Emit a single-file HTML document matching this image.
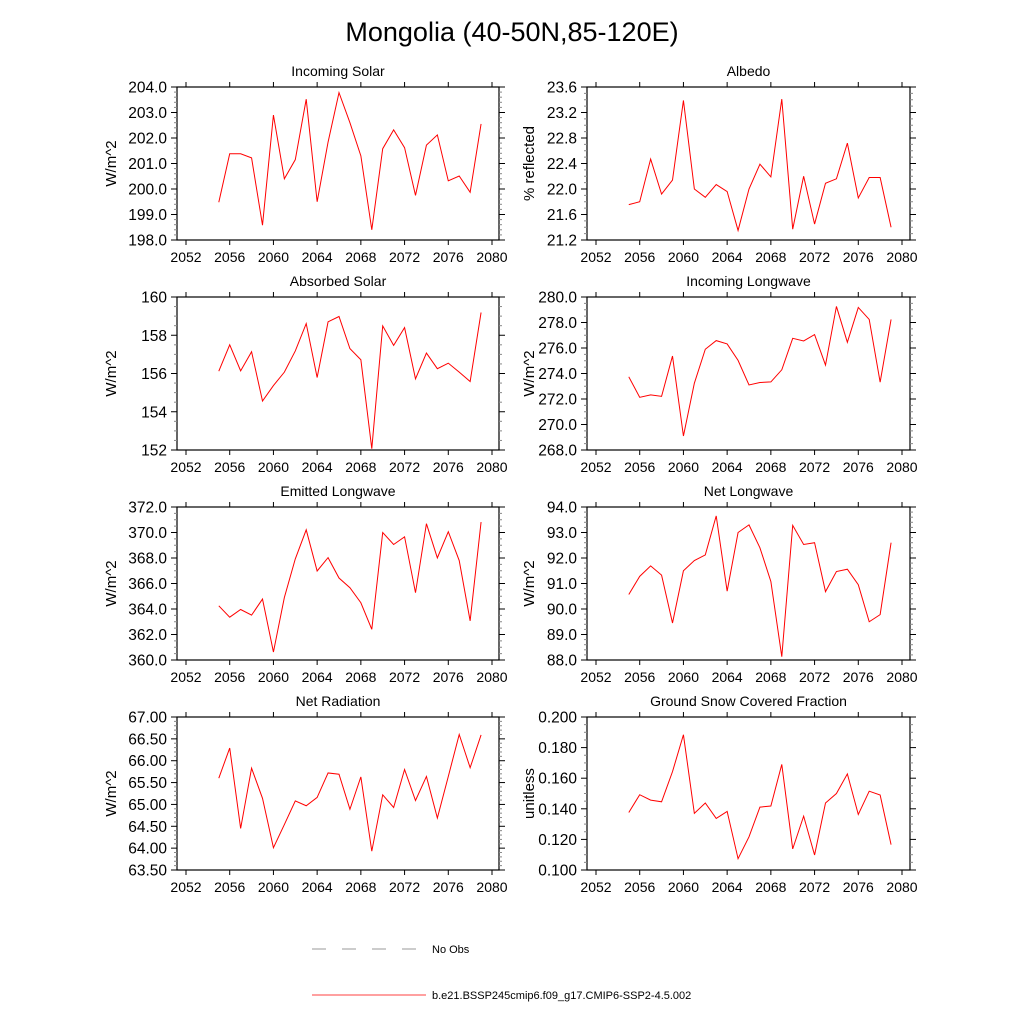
<!DOCTYPE html>
<html><head><meta charset="utf-8"><style>
html,body{margin:0;padding:0;background:#fff;}
svg{display:block;font-family:"Liberation Sans",sans-serif;}
</style></head><body>
<svg id="root" width="1024" height="1024" viewBox="0 0 1024 1024">
<text x="512" y="41" font-size="27" text-anchor="middle">Mongolia (40-50N,85-120E)</text>
<g>
<line x1="312" y1="949" x2="420" y2="949" stroke="#333" stroke-width="0.6" stroke-dasharray="14,16"/>
<text x="432" y="953" font-size="11">No Obs</text>
<line x1="312" y1="995" x2="426" y2="995" stroke="#f00" stroke-width="0.8"/>
<text x="432" y="999" font-size="11">b.e21.BSSP245cmip6.f09_g17.CMIP6-SSP2-4.5.002</text>
</g>
</svg>
<script>
const years=[2055,2056,2057,2058,2059,2060,2061,2062,2063,2064,2065,2066,2067,2068,2069,2070,2071,2072,2073,2074,2075,2076,2077,2078,2079];
const xTicks=[2052,2056,2060,2064,2068,2072,2076,2080];
const incomingSolar=[199.48,201.38,201.38,201.22,198.58,202.9,200.4,201.15,203.52,199.5,201.84,203.78,202.6,201.3,198.4,201.58,202.32,201.62,199.75,201.72,202.12,200.32,200.51,199.87,202.55];
const albedo=[21.755,21.8,22.47,21.92,22.14,23.39,22.0,21.87,22.07,21.96,21.35,22.0,22.39,22.19,23.41,21.37,22.2,21.45,22.09,22.16,22.72,21.86,22.18,22.18,21.4];
const absorbedSolar=[156.12,157.5,156.14,157.14,154.56,155.37,156.07,157.18,158.61,155.79,158.7,158.98,157.3,156.72,152.07,158.49,157.47,158.4,155.72,157.07,156.25,156.54,156.07,155.58,159.19];
const incomingLW=[273.74,272.13,272.32,272.21,275.37,269.1,273.24,275.9,276.58,276.32,275.03,273.1,273.29,273.34,274.29,276.76,276.55,277.05,274.66,279.26,276.45,279.18,278.24,273.32,278.24];
const emittedLW=[364.25,363.36,363.96,363.52,364.78,360.63,364.9,367.93,370.21,366.98,368.03,366.43,365.67,364.49,362.41,370.0,369.06,369.66,365.28,370.69,368.01,370.06,367.8,363.07,370.82];
const netLW=[90.57,91.28,91.69,91.33,89.45,91.5,91.9,92.12,93.65,90.7,93.0,93.3,92.4,91.08,88.13,93.28,92.53,92.6,90.68,91.47,91.56,90.95,89.5,89.78,92.6];
const netRad=[65.6,66.29,64.45,65.83,65.14,64.01,64.54,65.08,64.97,65.16,65.72,65.69,64.89,65.63,63.93,65.22,64.93,65.8,65.09,65.64,64.69,65.64,66.6,65.84,66.59];
const snowFrac=[0.1376,0.1492,0.1457,0.1446,0.1643,0.1884,0.137,0.1438,0.1337,0.1383,0.1074,0.1217,0.1411,0.1418,0.169,0.1138,0.1352,0.1098,0.1438,0.15,0.1628,0.1363,0.1515,0.149,0.1166];
const ticksIS=[198,199,200,201,202,203,204];
const ticksAL=[21.2,21.6,22.0,22.4,22.8,23.2,23.6];
const ticksAS=[152,154,156,158,160];
const ticksIL=[268,270,272,274,276,278,280];
const ticksEL=[360,362,364,366,368,370,372];
const ticksNL=[88,89,90,91,92,93,94];
const ticksNR=[63.5,64,64.5,65,65.5,66,66.5,67];
const ticksSN=[0.1,0.12,0.14,0.16,0.18,0.2];

const NS='http://www.w3.org/2000/svg';
const root=document.getElementById('root');
function mk(tag,attrs,parent){const e=document.createElementNS(NS,tag);for(const k in attrs)e.setAttribute(k,attrs[k]);(parent||root).appendChild(e);return e;}

const panels=[
 {title:'Incoming Solar',ylab:'W/m^2',data:incomingSolar,ticks:ticksIS,dec:1,minor:5,col:0,row:0,slug:'incoming-solar'},
 {title:'Albedo',ylab:'% reflected',data:albedo,ticks:ticksAL,dec:1,minor:4,col:1,row:0,slug:'albedo'},
 {title:'Absorbed Solar',ylab:'W/m^2',data:absorbedSolar,ticks:ticksAS,dec:0,minor:4,col:0,row:1,slug:'absorbed-solar'},
 {title:'Incoming Longwave',ylab:'W/m^2',data:incomingLW,ticks:ticksIL,dec:1,minor:4,col:1,row:1,slug:'incoming-longwave'},
 {title:'Emitted Longwave',ylab:'W/m^2',data:emittedLW,ticks:ticksEL,dec:1,minor:4,col:0,row:2,slug:'emitted-longwave'},
 {title:'Net Longwave',ylab:'W/m^2',data:netLW,ticks:ticksNL,dec:1,minor:5,col:1,row:2,slug:'net-longwave'},
 {title:'Net Radiation',ylab:'W/m^2',data:netRad,ticks:ticksNR,dec:2,minor:5,col:0,row:3,slug:'net-radiation'},
 {title:'Ground Snow Covered Fraction',ylab:'unitless',data:snowFrac,ticks:ticksSN,dec:3,minor:4,col:1,row:3,slug:'snow-fraction'}
];
const colX=[{f0:177,f1:499,t0:186,t1:492,ylx:116},{f0:587,f1:910,t0:596,t1:902,ylx:534}];
const rowY=[87,297,507,717];
const H=153;

panels.forEach(p=>{
 const c=colX[p.col],top=rowY[p.row],bot=top+H;
 const ymin=p.ticks[0],ymax=p.ticks[p.ticks.length-1];
 const xs=v=>c.t0+(v-2052)/(2080-2052)*(c.t1-c.t0);
 const ys=v=>bot-(v-ymin)/(ymax-ymin)*H;
 const g=mk('g',{});
 
 
 const fr=mk('rect',{x:c.f0,y:top,width:c.f1-c.f0,height:H,fill:'none',stroke:'#000','stroke-width':1.2},g);
 
 
 const t=mk('text',{x:(c.f0+c.f1)/2,y:top-11,'font-size':14,'text-anchor':'middle'},g);
 t.textContent=p.title;
 
 
 const yl=mk('text',{x:c.ylx,y:(top+bot)/2,'font-size':15,'text-anchor':'middle',transform:`rotate(-90 ${c.ylx} ${(top+bot)/2})`},g);
 yl.textContent=p.ylab;
 
 
 xTicks.forEach(v=>{
  const x=xs(v);
  mk('line',{x1:x,y1:bot,x2:x,y2:bot+5,stroke:'#000','stroke-width':1},g);
  mk('line',{x1:x,y1:top,x2:x,y2:top-5,stroke:'#000','stroke-width':1},g);
  const tl=mk('text',{x:x,y:bot+22,'font-size':14,'text-anchor':'middle'},g);
  tl.textContent=v;
  
  
 });
 p.ticks.forEach((v,i)=>{
  const y=ys(v);
  mk('line',{x1:c.f0-6,y1:y,x2:c.f0,y2:y,stroke:'#000','stroke-width':1},g);
  mk('line',{x1:c.f1,y1:y,x2:c.f1+6,y2:y,stroke:'#000','stroke-width':1},g);
  const tl=mk('text',{x:c.f0-10,y:y+5.5,'font-size':15.5,'text-anchor':'end'},g);
  tl.textContent=v.toFixed(p.dec);
  
  
  if(i<p.ticks.length-1){
   const step=(p.ticks[i+1]-v)/p.minor;
   for(let k=1;k<p.minor;k++){
    const yy=ys(v+k*step);
    mk('line',{x1:c.f0-3,y1:yy,x2:c.f0,y2:yy,stroke:'#888','stroke-width':1},g);
    mk('line',{x1:c.f1,y1:yy,x2:c.f1+3,y2:yy,stroke:'#888','stroke-width':1},g);
   }
  }
 });
 const pts=p.data.map((v,i)=>xs(years[i]).toFixed(2)+','+ys(v).toFixed(2)).join(' ');
 const ln=mk('polyline',{points:pts,fill:'none',stroke:'#f00','stroke-width':1},g);
 
 
});
</script>
</body></html>
